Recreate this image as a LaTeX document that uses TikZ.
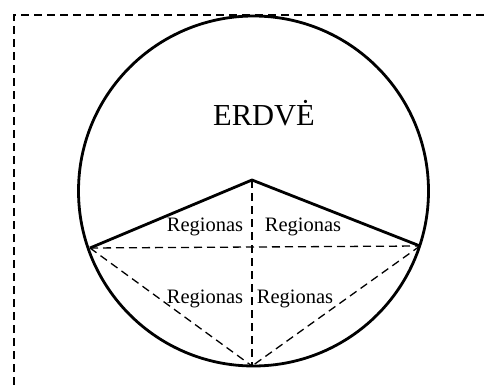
\documentclass[tikz,border=0pt]{standalone}
\usepackage{fontspec}
\setmainfont{Liberation Serif}
\begin{document}
\begin{tikzpicture}[x=1pt,y=-1pt,
  thick line/.style={line width=2.8pt, line join=round},
  thin dash/.style={line width=1.3pt, dash pattern=on 8pt off 5pt},
  frame dash/.style={line width=1.5pt, dash pattern=on 8pt off 5pt},
  region/.style={font=\fontsize{20.5}{24}\selectfont, anchor=base, inner sep=0pt},
  title/.style={font=\fontsize{30.5}{36}\selectfont, anchor=base, inner sep=0pt}]
\useasboundingbox (0,0) rectangle (487,385);
% frame (cropped dashed rectangle)
\coordinate (f1) at (14,385);
\coordinate (f2) at (14,15);
\coordinate (f3) at (487,15);
\draw[frame dash] (f1) -- (f2) -- (f3);
% main points
\coordinate (O) at (253.5,191);
\coordinate (L) at (90,248);
\coordinate (R) at (420,246);
\coordinate (T) at (252,180);
\coordinate (B) at (252,366);
% dashed divisions
\draw[thin dash] (L) -- (R);
\draw[thin dash] (T) -- (B);
\draw[thin dash] (L) -- (B);
\draw[thin dash] (R) -- (B);
% circle and roof
\draw[thick line] (O) circle (175);
\draw[thick line] (L) -- (T) -- (R);
% labels
\node[title] (erd) at (264,125) {ERDVĖ};
\node[region] (r1) at (205,231) {Regionas};
\node[region] (r2) at (303,231) {Regionas};
\node[region] (r3) at (205,303) {Regionas};
\node[region] (r4) at (295,303) {Regionas};
\end{tikzpicture}
\end{document}
